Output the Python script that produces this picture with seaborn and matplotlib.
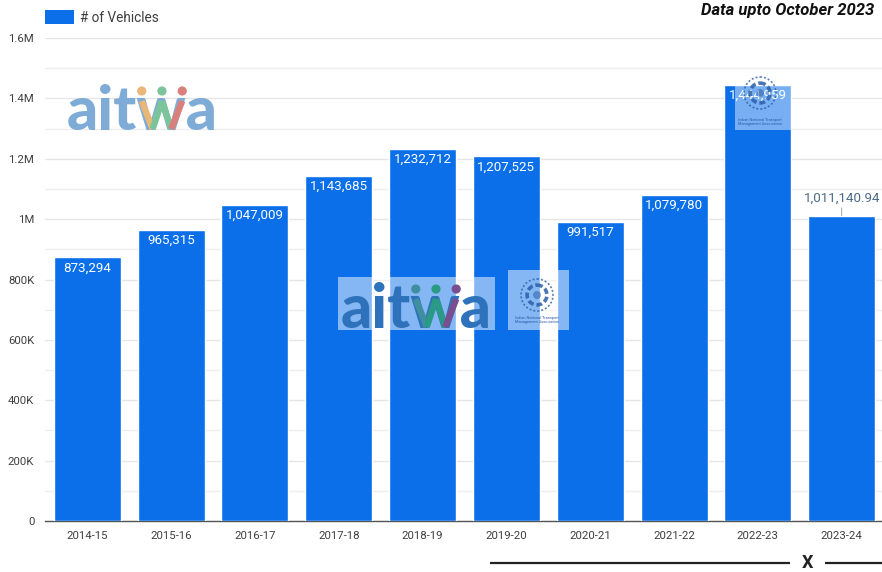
import matplotlib
matplotlib.use("Agg")
import matplotlib.pyplot as plt
from matplotlib.font_manager import FontProperties
from matplotlib.patches import Circle, Rectangle
from matplotlib.textpath import TextPath
from matplotlib.ticker import FuncFormatter, MultipleLocator
import pandas as pd
import seaborn as sns

years = ["2014-15", "2015-16", "2016-17", "2017-18", "2018-19",
         "2019-20", "2020-21", "2021-22", "2022-23", "2023-24"]
vehicles = [873294, 965315, 1047009, 1143685, 1232712,
            1207525, 991517, 1079780, 1444959, 1011140.94]
value_labels = ["873,294", "965,315", "1,047,009", "1,143,685", "1,232,712",
                "1,207,525", "991,517", "1,079,780", "1,444,959", "1,011,140.94"]
series_name = "# of Vehicles"
note = "Data upto October 2023"
BLUE = "#0a6fe9"

sns.set_theme(style="white")
plt.rcParams["font.family"] = ["Roboto", "DejaVu Sans"]

W, H = 882, 572
fig = plt.figure(figsize=(W / 100, H / 100), dpi=100)
ax = fig.add_axes([45.4 / W, 1 - 521 / H, (W + 1.6 - 45.4) / W, 483 / H])

df = pd.DataFrame({"year": years, "vehicles": vehicles})
sns.barplot(data=df, x="year", y="vehicles", color=BLUE, saturation=1, width=0.8, ax=ax, zorder=3)
ax.set_xlim(-0.5, 9.5)
ax.set_ylim(0, 1600000)
ax.set_xlabel("")
ax.set_ylabel("")


def short_number(v, _):
    if v == 0:
        return "0"
    if v >= 1e6:
        return f"{v / 1e6:g}M"
    return f"{v / 1e3:g}K"


ax.yaxis.set_major_locator(MultipleLocator(200000))
ax.yaxis.set_minor_locator(MultipleLocator(100000))
ax.yaxis.set_major_formatter(FuncFormatter(short_number))
ax.grid(True, which="major", axis="y", color="#e6e6e6", lw=1, zorder=0)
ax.grid(True, which="minor", axis="y", color="#eeeeee", lw=1, zorder=0)
ax.set_axisbelow(True)
ax.tick_params(axis="both", which="both", length=0, labelsize=8.2, labelcolor="#3f3f3f")
ax.tick_params(axis="y", pad=8)
ax.tick_params(axis="x", pad=7)
for side in ("top", "right", "left"):
    ax.spines[side].set_visible(False)
ax.spines["bottom"].set_color("#555555")
ax.spines["bottom"].set_linewidth(1)

# Value labels: inside the bar top, except the last bar which sits above it
for i, (v, text) in enumerate(zip(vehicles, value_labels)):
    if i == len(vehicles) - 1:
        ax.annotate(text, (i, v), xytext=(0, 8), textcoords="offset points", ha="center",
                    va="bottom", fontsize=9.6, color="#4a6a85",
                    arrowprops=dict(arrowstyle="-", color="#9aa5ad", lw=0.7, shrinkA=0, shrinkB=0))
    else:
        ax.annotate(text, (i, v), xytext=(0, -3), textcoords="offset points", ha="center",
                    va="top", fontsize=9.6, color="white", zorder=5)

# Overlay in pixel units for the legend key, watermarks and rule under the axis
ov = fig.add_axes([0, 0, 1, 1], facecolor="none", zorder=10)
ov.set_xlim(0, W)
ov.set_ylim(H, 0)
ov.axis("off")

ov.add_patch(Rectangle((45, 10), 29, 14, fc=BLUE, ec="none"))
ov.text(80, 17.5, series_name, fontsize=9.8, color="#3f3f3f", va="center", ha="left")
ov.text(874, 11, note, fontsize=12, color="#111111", style="italic", weight="bold", va="center", ha="right")

ov.plot([490, 790], [563, 563], color="#222222", lw=1.6, solid_capstyle="butt")
ov.plot([825, 882], [563, 563], color="#222222", lw=1.6, solid_capstyle="butt")
ov.text(807.5, 562.5, "X", fontsize=13, weight="bold", color="#222222", ha="center", va="center")

BRAND_SIZE_PT = 44
brand_font = FontProperties(family="Lato", weight=900)


def advance_px(s):
    """Horizontal extent of a string in the wordmark font, in pixels at this figure's dpi."""
    # A trailing full stop keeps the glyph's advance, not only its ink, in the measurement
    with_stop = TextPath((0, 0), s + ".", size=BRAND_SIZE_PT, prop=brand_font).get_extents().x1
    stop = TextPath((0, 0), ".", size=BRAND_SIZE_PT, prop=brand_font).get_extents().x1
    return (with_stop - stop) * 100 / 72


def brand(x, baseline, base, orange, green, red):
    """Wordmark with a multicoloured 'w'; x is the left edge, baseline the foot of the letters."""
    ov.text(x, baseline, "aitwa", fontsize=BRAND_SIZE_PT, weight=900, color=base, family="Lato",
            va="baseline", ha="left", zorder=3)
    left = x + advance_px("ait") + 4.5
    right = x + advance_px("aitw") - 4.5
    span = right - left
    top, foot = baseline - 29, baseline - 1
    xs = [left, left + 0.27 * span, left + 0.5 * span, left + 0.73 * span, right]
    for (a, b, ya, yb, col) in [(xs[0], xs[1], top, foot, orange), (xs[1], xs[2], foot, top, green),
                                (xs[2], xs[3], top, foot, green), (xs[3], xs[4], foot, top, red)]:
        ov.plot([a, b], [ya, yb], color=col, lw=4.6, solid_capstyle="butt", zorder=4)
    for frac, col in [(0.0, orange), (0.5, green), (1.0, red)]:
        ov.add_patch(Circle((left + frac * span, baseline - 39), 4.6, fc=col, ec="none", zorder=4))


def emblem(cx, cy, r, caption_y):
    ink = "#2b5ea8"
    ov.add_patch(Circle((cx, cy), r, fc="none", ec=ink, lw=1.2, ls=(0, (1.2, 1.2)), alpha=0.8))
    ov.add_patch(Circle((cx, cy), r * 0.62, fc="none", ec=ink, lw=2.6, ls=(0, (1.6, 0.8)), alpha=0.85))
    ov.add_patch(Circle((cx, cy), r * 0.25, fc=ink, ec="none", alpha=0.55))
    ov.text(cx, caption_y, "Indian National Transport\nManagement Association", fontsize=2.8,
            color=ink, ha="center", va="center", linespacing=1.1)


brand(67, 130, "#7facd6", "#e9b778", "#7cc49a", "#d9807c")

# Pale panels behind the repeated watermarks
ov.add_patch(Rectangle((338, 277), 157, 53, fc="white", ec="none", alpha=0.5, zorder=1))
brand(341, 328, "#2e72bb", "#3f8fa0", "#2a9a86", "#7a4f92")
ov.add_patch(Rectangle((508, 270), 61, 60, fc="white", ec="none", alpha=0.5, zorder=1))
emblem(537, 295, 16, 320)
ov.add_patch(Rectangle((735, 85), 56, 45, fc="white", ec="none", alpha=0.45, zorder=1))
emblem(760, 93, 16, 122)

fig.savefig("out.png", dpi=100)
